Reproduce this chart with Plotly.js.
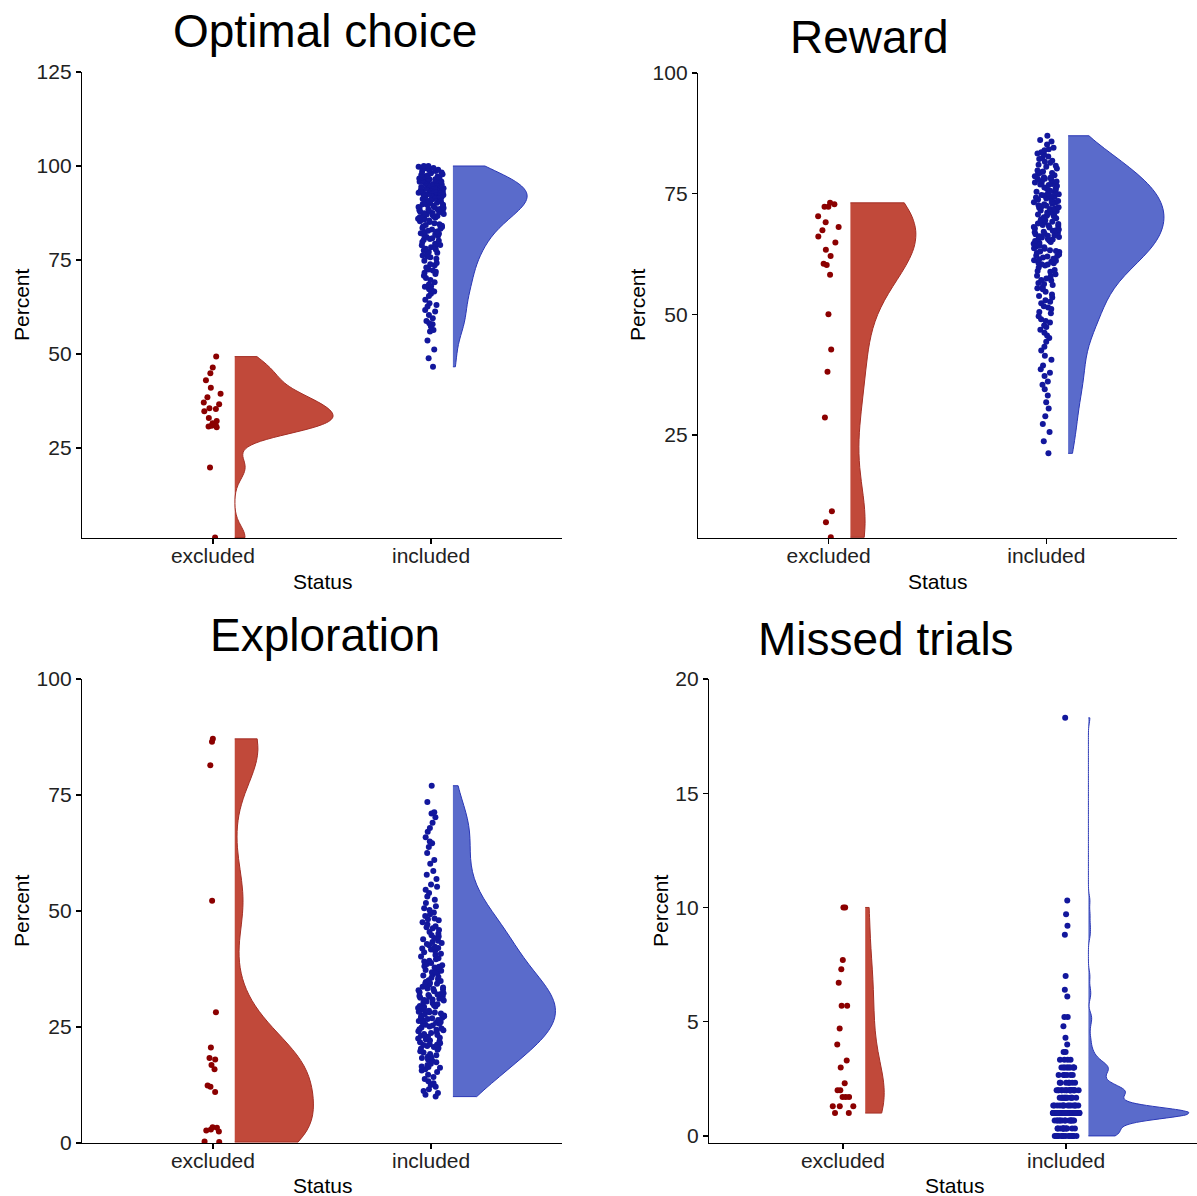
<!DOCTYPE html>
<html>
<head>
<meta charset="utf-8">
<script src="https://cdn.plot.ly/plotly-3.0.1.min.js"></script>
<style>html,body{margin:0;padding:0;background:#fff;}#chart{width:1197px;height:1196px;}</style>
</head>
<body>
<div id="chart"></div>
<script>
// ---------------- DATA ----------------
const categories = ["excluded", "included"];
const panelTitles = ["Optimal choice", "Reward", "Exploration", "Missed trials"];
const xAxisTitle = "Status";
const yAxisTitle = "Percent";

const optimalExcluded = [49.3, 46.4, 44.9, 43.0, 41.0, 39.4, 38.5, 37.1, 36.6, 35.6, 35.4, 34.8, 33.0, 32.2, 31.6, 30.9, 30.5, 30.7, 31.0, 19.8, 1.2];
const optimalIncluded = [
  100, 100, 99.8, 99.5, 99.3, 99.0, 98.7, 98.5, 98.1, 97.8, 97.5, 97.2, 97.0, 96.7, 96.5, 96.2, 96.0, 95.8, 95.6, 95.4, 95.2, 95.0, 99.4, 98.3, 97.6, 96.8, 96.1, 95.5, 98.9, 97.3, 96.4, 95.1, 99.6, 95.9, 96.6,
  94.9, 94.7, 94.6, 94.4, 94.3, 94.1, 94.0, 93.8, 93.7, 93.5, 93.4, 93.2, 93.1, 93.0, 92.8, 92.7, 92.5, 92.4, 92.2, 92.1, 92.0, 91.8, 91.7, 91.5, 91.4, 91.2, 91.1, 91.0, 90.8, 90.7, 90.5, 90.4, 90.2, 90.1, 90.0, 94.5, 93.6, 92.9, 92.6, 91.9, 91.3, 90.6, 93.3, 92.3, 94.2, 91.6, 90.3, 92.9,
  89.8, 89.6, 89.3, 89.1, 88.9, 88.6, 88.4, 88.1, 87.9, 87.7, 87.4, 87.2, 87.0, 86.7, 86.5, 86.2, 86.0, 85.8, 85.5, 85.3, 85.1, 89.4, 88.8, 88.2, 87.5, 86.9, 86.3, 85.7, 89.0, 87.8, 89.7, 88.5, 87.1, 86.4, 85.9,
  84.8, 84.5, 84.1, 83.8, 83.5, 83.1, 82.8, 82.4, 82.1, 81.8, 81.4, 81.1, 80.8, 80.4, 80.1, 84.3, 83.3, 82.6, 81.6, 80.6, 83.9, 82.0,
  79.8, 79.3, 78.9, 78.4, 78.0, 77.5, 77.1, 76.6, 76.2, 75.7, 75.3, 79.0, 77.8, 76.9, 75.9, 78.6,
  74.8, 74.2, 73.6, 73.0, 72.5, 71.9, 71.3, 70.8, 70.2, 73.9, 72.2, 71.6,
  69.7, 69.1, 68.5, 67.9, 67.2, 66.6, 66.0, 65.4, 68.0, 66.9,
  64.4, 63.5, 62.6, 61.7, 61.3, 60.4, 63.0,
  59.5, 58.2, 57.9, 57.3, 56.4, 56.0, 58.8,
  53.6, 51.2, 48.9, 46.6
];

const rewardExcluded = [73.1, 72.8, 72.3, 72.3, 70.3, 69.1, 68.1, 67.4, 66.1, 64.9, 63.4, 62.1, 60.5, 60.2, 58.2, 50.0, 42.7, 38.1, 28.6, 9.2, 6.9, 3.8];
const rewardIncluded = [
  87.0, 86.1, 85.8, 85.2,
  84.5, 84.0, 83.6, 83.1, 82.7, 82.2, 81.8, 81.4, 81.0, 80.6, 80.2, 84.2, 83.3, 82.4, 81.6, 80.8,
  79.8, 79.6, 79.3, 79.1, 78.8, 78.6, 78.3, 78.1, 77.8, 77.6, 77.3, 77.1, 76.8, 76.6, 76.3, 76.1, 75.8, 75.6, 75.3, 75.1, 79.4, 78.4, 77.5, 76.9, 76.0, 75.4, 78.0, 77.0,
  74.9, 74.7, 74.5, 74.2, 74.0, 73.8, 73.5, 73.3, 73.1, 72.8, 72.6, 72.4, 72.1, 71.9, 71.7, 71.4, 71.2, 71.0, 70.7, 70.5, 70.3, 70.1, 74.6, 73.9, 73.2, 72.5, 71.8, 71.1, 70.4, 74.3, 72.9, 72.2, 71.5, 70.8,
  69.9, 69.7, 69.4, 69.2, 69.0, 68.7, 68.5, 68.3, 68.0, 67.8, 67.6, 67.3, 67.1, 66.9, 66.6, 66.4, 66.2, 65.9, 65.7, 65.5, 65.2, 65.0, 69.5, 68.8, 68.1, 67.4, 66.7, 66.0, 65.3, 69.1, 68.4, 67.0, 66.3, 65.6,
  64.8, 64.5, 64.2, 63.9, 63.6, 63.3, 63.0, 62.7, 62.4, 62.1, 61.8, 61.5, 61.2, 60.9, 60.6, 60.3, 60.1, 64.6, 63.7, 62.9, 62.0, 61.1, 60.4, 64.0, 63.1, 62.2, 61.4, 60.7,
  59.7, 59.2, 58.8, 58.3, 57.9, 57.4, 57.0, 56.5, 56.1, 55.6, 55.2, 59.0, 58.0, 57.1, 56.3, 55.4,
  54.7, 54.1, 53.5, 52.9, 52.3, 51.7, 51.1, 50.5, 53.8, 52.6, 51.4, 50.2,
  49.6, 49.0, 48.3, 47.7, 47.4, 46.8, 46.2, 45.6, 48.6, 45.1,
  44.3, 43.3, 42.5, 41.4, 40.6,
  39.4, 38.6, 37.9, 37.2, 36.1, 35.4,
  34.5, 33.2, 31.8, 30.5,
  28.9, 27.3, 25.6,
  23.7, 21.2
];

const explorationExcluded = [87.1, 86.5, 81.4, 52.2, 28.2, 20.6, 18.0, 18.3, 16.8, 15.9, 12.4, 12.1, 11.0, 2.7, 2.9, 2.5, 3.4, 3.3, 0.3, 0.2];
const explorationIncluded = [
  77.0, 73.5, 71.3, 71.0, 70.2,
  69.0, 67.9, 67.1, 65.9, 65.0,
  64.6, 63.8, 62.5, 61.0, 60.2,
  58.6, 57.8, 56.9, 55.7, 55.2,
  54.6, 53.9, 53.1, 52.4, 51.7, 51.0, 50.6, 50.2,
  49.7, 49.3, 48.9, 48.4, 48.0, 47.6, 47.1, 46.7, 46.3, 45.9, 45.5, 45.1, 48.2, 46.5,
  44.8, 44.5, 44.2, 43.9, 43.6, 43.3, 42.9, 42.6, 42.3, 42.0, 41.7, 41.4, 41.1, 40.8, 40.5, 40.2, 43.1, 41.9,
  39.8, 39.6, 39.3, 39.1, 38.8, 38.6, 38.3, 38.1, 37.8, 37.6, 37.3, 37.1, 36.8, 36.6, 36.3, 36.1, 35.8, 35.6, 35.3, 35.1, 38.0, 36.9,
  34.9, 34.7, 34.5, 34.3, 34.1, 33.9, 33.7, 33.5, 33.3, 33.1, 32.9, 32.7, 32.5, 32.3, 32.1, 31.9, 31.7, 31.5, 31.3, 31.1, 30.9, 30.7, 30.5, 30.3, 30.1, 34.4, 33.2, 32.0, 30.8, 31.6,
  29.9, 29.7, 29.5, 29.3, 29.1, 28.9, 28.7, 28.5, 28.3, 28.1, 27.9, 27.7, 27.5, 27.3, 27.1, 26.9, 26.7, 26.5, 26.3, 26.1, 25.9, 25.7, 25.5, 25.3, 25.1, 29.4, 28.2, 27.0, 25.8, 28.6, 26.4, 27.4,
  24.9, 24.7, 24.5, 24.3, 24.1, 23.9, 23.7, 23.5, 23.3, 23.1, 22.9, 22.7, 22.5, 22.3, 22.1, 21.9, 21.7, 21.5, 21.3, 21.1, 20.9, 20.7, 20.5, 20.3, 20.1, 24.4, 22.6, 21.2,
  19.8, 19.5, 19.2, 18.9, 18.6, 18.3, 18.0, 17.7, 17.4, 17.1, 16.8, 16.5, 16.2, 15.9, 15.6, 15.3, 18.5, 16.4,
  14.7, 14.2, 13.8, 13.3, 12.9, 12.5, 12.1, 11.6, 11.2, 10.8, 10.4, 10.0
];

const missedExcluded = [10.0, 10.0, 7.7, 7.3, 6.7, 5.7, 5.7, 4.7, 4.0, 3.3, 3.0, 2.3, 2.0, 2.0, 1.7, 1.7, 1.7, 1.3, 1.3, 1.3, 1.0, 1.0];
const missedIncluded = [
  0, 0, 0, 0, 0, 0, 0, 0, 0, 0, 0, 0, 0, 0,
  0.33, 0.33, 0.33, 0.33, 0.33, 0.33, 0.33, 0.33, 0.33, 0.33, 0.33, 0.33,
  0.67, 0.67, 0.67, 0.67, 0.67, 0.67, 0.67, 0.67, 0.67, 0.67, 0.67, 0.67, 0.67, 0.67,
  1.0, 1.0, 1.0, 1.0, 1.0, 1.0, 1.0, 1.0, 1.0, 1.0, 1.0, 1.0, 1.0, 1.0, 1.0, 1.0, 1.0, 1.0, 1.0, 1.0,
  1.0, 1.0, 1.0, 1.0, 1.0, 1.0, 1.0, 1.0, 1.0, 1.0, 1.0, 1.0, 1.0, 1.0, 1.0, 1.0, 1.0, 1.0, 1.0, 1.0,
  1.0, 1.0, 1.0, 1.0, 1.0, 1.0, 1.0, 1.0, 1.0, 1.0, 1.0, 1.0, 1.0, 1.0, 1.0, 1.0, 1.0, 1.0, 1.0, 1.0,
  1.33, 1.33, 1.33, 1.33, 1.33, 1.33, 1.33, 1.33, 1.33, 1.33, 1.33, 1.33, 1.33, 1.33,
  1.67, 1.67, 1.67, 1.67, 1.67, 1.67, 1.67, 1.67, 1.67, 1.67, 1.67, 1.67,
  2.0, 2.0, 2.0, 2.0, 2.0, 2.0, 2.0, 2.0, 2.0, 2.0, 2.0, 2.0, 2.0, 2.0, 2.0, 2.0, 2.0, 2.0,
  2.33, 2.33, 2.33, 2.33, 2.33, 2.33, 2.33,
  2.67, 2.67, 2.67, 2.67, 2.67, 2.67,
  3.0, 3.0, 3.0, 3.0, 3.0, 3.0, 3.0, 3.0, 3.0, 3.0,
  3.33, 3.33, 3.33, 3.33, 3.67, 3.67,
  4.0, 4.3, 4.8, 5.2, 5.2, 6.1, 6.4, 7.0, 8.8, 9.2, 9.7, 10.3,
  18.3
];

const panelData = [
  [optimalExcluded, optimalIncluded],
  [rewardExcluded, rewardIncluded],
  [explorationExcluded, explorationIncluded],
  [missedExcluded, missedIncluded]
];

// ---------------- STYLE ----------------
const W = 1197, H = 1196;
const FONT = "Liberation Sans, Arial, Helvetica, sans-serif";
const pointColors = ["#8B0000", "#12179C"];
const violinFill = ["#C1493A", "#5A6BCB"];
const violinLine = ["#A32E25", "#2A37B5"];
// full violin widths (data units) per panel, [excluded, included]; the half violin shows half of it
const violinWidths = [[0.90, 0.68], [0.60, 0.88], [0.72, 0.94], [0.17, 0.90]];

function nrd0(arr) {
  const a = arr.slice().sort((p, q) => p - q);
  const n = a.length;
  const mean = a.reduce((s, v) => s + v, 0) / n;
  const sd = Math.sqrt(a.reduce((s, v) => s + (v - mean) * (v - mean), 0) / (n - 1));
  const q = p => { const h = (n - 1) * p; const lo = Math.floor(h); return a[lo] + (h - lo) * ((a[Math.min(lo + 1, n - 1)]) - a[lo]); };
  const iqr = q(0.75) - q(0.25);
  let lo = Math.min(sd, iqr / 1.34);
  if (!lo) lo = sd || 1;
  return 0.9 * lo * Math.pow(n, -0.2);
}

const px = x => x / W;
const py = y => 1 - y / H;

// panel pixel boxes: [x0, x1, yTop, yBottom]
const boxes = [[82, 562, 72, 538], [698, 1177, 73, 538], [82, 562, 679, 1143], [709, 1197, 679, 1143]];
const yRanges = [[1.06, 125], [3.66, 100], [0, 100], [-0.31, 20]];
const xRanges = [[0.4, 2.6], [0.4, 2.6], [0.4, 2.6], [0.4, 2.5865]];
const yTicks = [[25, 50, 75, 100, 125], [25, 50, 75, 100], [0, 25, 50, 75, 100], [0, 5, 10, 15, 20]];

const traces = [];
const layout = {
  width: W, height: H,
  margin: {l: 0, r: 0, t: 0, b: 0},
  paper_bgcolor: "#fff", plot_bgcolor: "#fff",
  showlegend: false,
  font: {family: FONT, color: "#000"},
  annotations: []
};

for (let p = 0; p < 4; p++) {
  const sfx = p === 0 ? "" : String(p + 1);
  const xa = "x" + sfx, ya = "y" + sfx;
  const [bx0, bx1, byT, byB] = boxes[p];
  const axCommon = {
    showline: true, linecolor: "#000", linewidth: 1.2,
    ticks: "outside", ticklen: 5, tickwidth: 1.2, tickcolor: "#000",
    showgrid: false, zeroline: false, fixedrange: true,
    tickfont: {family: FONT, size: 21, color: "#222"}
  };
  layout["xaxis" + sfx] = Object.assign({}, axCommon, {
    domain: [px(bx0), Math.min(1, px(bx1))], anchor: ya, range: xRanges[p],
    tickmode: "array", tickvals: [1, 2], ticktext: categories, ticklabelstandoff: -6
  });
  layout["yaxis" + sfx] = Object.assign({}, axCommon, {
    domain: [py(byB), py(byT)], anchor: xa, range: yRanges[p],
    tickmode: "array", tickvals: yTicks[p], ticktext: yTicks[p].map(String)
  });
  for (let g = 0; g < 2; g++) {
    const vals = panelData[p][g];
    traces.push({
      type: "violin", xaxis: xa, yaxis: ya,
      y: vals, x0: (g + 1) + 0.1, name: categories[g],
      side: "positive", spanmode: "hard", scalemode: "width",
      width: violinWidths[p][g], bandwidth: nrd0(vals),
      points: false, box: {visible: false}, meanline: {visible: false},
      fillcolor: violinFill[g], line: {color: violinLine[g], width: 1},
      hoverinfo: "skip", opacity: 1
    });
    traces.push({
      type: "box", xaxis: xa, yaxis: ya,
      y: vals, x0: g + 1, name: categories[g],
      boxpoints: "all", jitter: 1, pointpos: 0, width: 0.12,
      fillcolor: "rgba(0,0,0,0)", line: {width: 0, color: "rgba(0,0,0,0)"},
      whiskerwidth: 0,
      marker: {color: pointColors[g], size: 6, line: {width: 0}},
      hoverinfo: "skip"
    });
  }
}

// titles and axis labels (positions in pixels)
const titlePos = [[325, 31], [869, 37], [325, 635], [886, 639]];
titlePos.forEach((t, i) => layout.annotations.push({
  text: panelTitles[i], xref: "paper", yref: "paper", x: px(t[0]), y: py(t[1]),
  xanchor: "center", yanchor: "middle", showarrow: false,
  font: {family: FONT, size: 46, color: "#000"}
}));
const statusPos = [[323, 581], [938, 581], [323, 1185], [955, 1185]];
statusPos.forEach(t => layout.annotations.push({
  text: xAxisTitle, xref: "paper", yref: "paper", x: px(t[0]), y: py(t[1]),
  xanchor: "center", yanchor: "middle", showarrow: false,
  font: {family: FONT, size: 21, color: "#000"}
}));
const percentPos = [[21, 305], [637, 305], [21, 911], [660, 911]];
percentPos.forEach(t => layout.annotations.push({
  text: yAxisTitle, xref: "paper", yref: "paper", x: px(t[0]), y: py(t[1]),
  xanchor: "center", yanchor: "middle", showarrow: false, textangle: -90,
  font: {family: FONT, size: 21, color: "#000"}
}));

Plotly.newPlot("chart", traces, layout, {staticPlot: true, displayModeBar: false});
</script>
</body>
</html>
